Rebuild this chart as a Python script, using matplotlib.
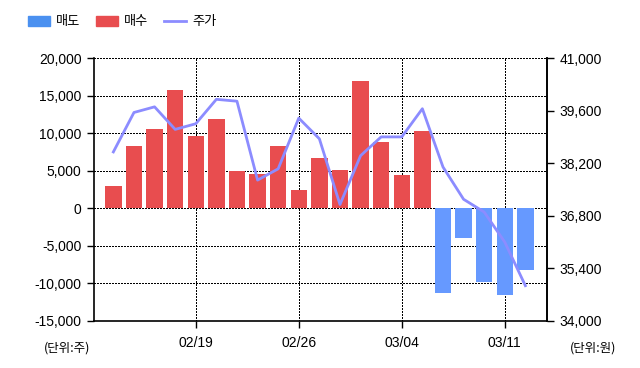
import numpy as np
import matplotlib.pyplot as plt
from matplotlib.patches import Patch
from matplotlib.lines import Line2D

# 일별 순매수/순매도 (주) 와 주가 (원)
net = [2900, 8300, 10550, 15750, 9650, 11900, 4950, 4550, 8300, 2450,
       6700, 5100, 16950, 8850, 4450, 10350,
       -11300, -3950, -9800, -11550, -8200]
price = [38500, 39550, 39700, 39100, 39250, 39900, 39850, 37750, 38050, 39400,
         38850, 37100, 38400, 38900, 38900, 39650,
         38100, 37240, 36900, 36100, 34940]
date_pos = [4, 9, 14, 19]
date_lab = ['02/19', '02/26', '03/04', '03/11']
left_ticks = [-15000, -10000, -5000, 0, 5000, 10000, 15000, 20000]
right_ticks = [34000, 35400, 36800, 38200, 39600, 41000]

red = '#E84D4F'
blue = '#6699FF'
lcol = '#8C8CFF'
kr = ['Noto Sans CJK KR', 'DejaVu Sans']
num = 'Liberation Sans'

fig = plt.figure(figsize=(6.4, 3.68), dpi=100)
ax = fig.add_axes([94/640, 1-321/368, (547-94)/640, (321-58)/368])
ax2 = ax.twinx()

x = np.arange(len(net))
cols = [red if v >= 0 else blue for v in net]
ax.bar(x, net, width=0.8, color=cols, zorder=2)
ax.set_ylim(-15000, 20000)
ax.set_xlim(-0.94, 21.05)
ax.set_yticks(left_ticks)
ax.set_yticklabels([f'{v:,}' for v in left_ticks], fontfamily=num, fontsize=10)
ax.set_xticks(date_pos)
ax.set_xticklabels(date_lab, fontfamily=num, fontsize=10)
ax.set_axisbelow(True)
ax.grid(True, color='black', linestyle=(0, (1, 1)), linewidth=1, antialiased=False)
ax.tick_params(axis='both', direction='out', length=5, width=1, colors='black', pad=4)
ax.tick_params(axis='x', pad=6)
ax.spines['top'].set_visible(False)
for s in ['left', 'bottom', 'right']:
    ax.spines[s].set_linewidth(1.2)

ax2.plot(x, price, color=lcol, linewidth=2, zorder=3)
ax2.set_ylim(34000, 41000)
ax2.set_yticks(right_ticks)
ax2.set_yticklabels([f'{v:,}' for v in right_ticks], fontfamily=num, fontsize=10)
ax2.tick_params(axis='y', direction='out', length=5, width=1, colors='black', pad=4)
ax2.spines['top'].set_visible(False)
ax2.spines['right'].set_linewidth(1.2)
ax2.spines['left'].set_visible(False)
ax2.spines['bottom'].set_visible(False)

fig.text(67/640, 1-348/368, '(단위:주)', ha='center', va='center', fontfamily=kr, fontsize=9)
fig.text(593/640, 1-348/368, '(단위:원)', ha='center', va='center', fontfamily=kr, fontsize=9)

handles = [Patch(color='#4A90F0'), Patch(color=red), Line2D([], [], color=lcol, linewidth=2)]
fig.legend(handles, ['매도', '매수', '주가'], loc='center left', bbox_to_anchor=(28/640, 1-22/368),
           ncol=3, frameon=False, prop={'family': kr, 'size': 9.5},
           handlelength=1.7, handleheight=0.7, handletextpad=0.45, columnspacing=1.15,
           borderpad=0, borderaxespad=0)

fig.savefig('out.png', dpi=100)
